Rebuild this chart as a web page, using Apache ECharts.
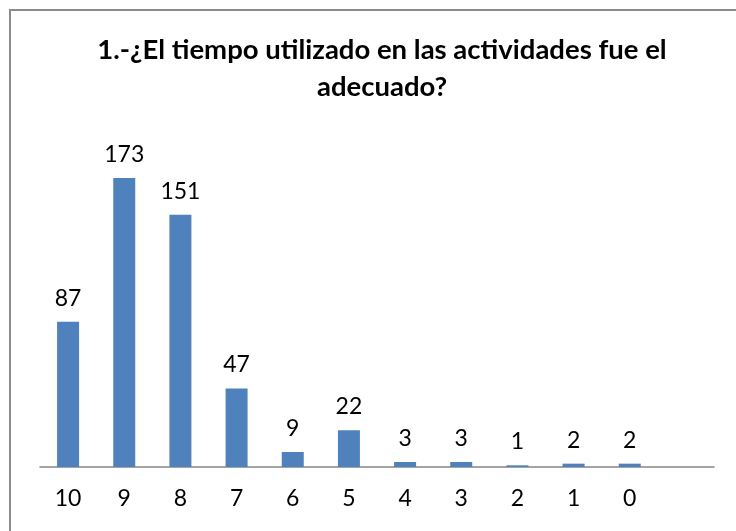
<!DOCTYPE html>
<html>
<head>
<meta charset="utf-8">
<script src="https://cdn.jsdelivr.net/npm/echarts@6/dist/echarts.min.js"></script>
<style>
    html, body { margin: 0; padding: 0; background: #fff; }
    #frame { position: absolute; left: 9px; top: 9px; width: 740px; height: 540px; border: 2px solid #8c8c8c; box-sizing: border-box; }
    #chart { width: 736px; height: 531px; position: absolute; left: 0; top: 0; }
</style>
</head>
<body>
<div id="frame"></div>
<div id="chart"></div>
<script>
// datos
var titulo = "1.-¿El tiempo utilizado en las actividades fue el\nadecuado?";
var categorias = ["10", "9", "8", "7", "6", "5", "4", "3", "2", "1", "0", ""];
var valores = [87, 173, 151, 47, 9, 22, 3, 3, 1, 2, 2, null];

var fuente = "Lato, 'Open Sans', sans-serif";

var chart = echarts.init(document.getElementById('chart'));
chart.setOption({
    animation: false,
    title: {
        text: titulo,
        left: 377,
        top: 27,
        textAlign: 'center',
        textStyle: {
            fontFamily: fuente,
            fontWeight: 'bold',
            fontSize: 27.5,
            lineHeight: 37,
            color: '#000'
        }
    },
    grid: {
        left: 40,
        right: 22,
        top: 133,
        bottom: 64
    },
    xAxis: {
        type: 'category',
        data: categorias,
        boundaryGap: true,
        axisLine: { lineStyle: { color: '#868686', width: 1.5 } },
        axisTick: { show: false },
        axisLabel: {
            margin: 20,
            fontFamily: fuente,
            fontSize: 23,
            color: '#000'
        }
    },
    yAxis: {
        type: 'value',
        min: 0,
        max: 200,
        show: false,
        splitLine: { show: false }
    },
    series: [{
        type: 'bar',
        data: valores,
        barWidth: 22,
        itemStyle: { color: '#4F81BD' },
        label: {
            show: true,
            position: 'top',
            distance: 12,
            fontFamily: fuente,
            fontSize: 23,
            color: '#000'
        }
    }]
});
</script>
</body>
</html>
